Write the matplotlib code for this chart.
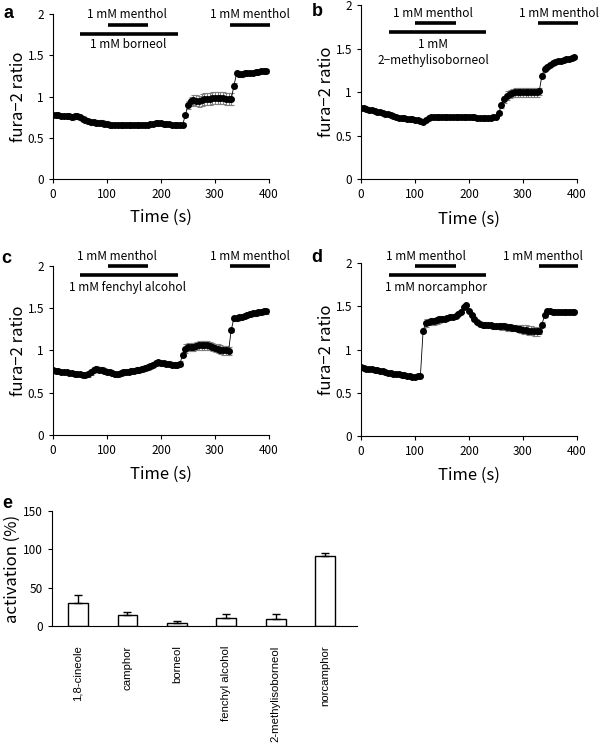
import numpy as np
import matplotlib.pyplot as plt

plt.rcParams['font.family'] = ['Noto Sans CJK JP', 'DejaVu Sans']

# sampling every 5 s
time_s = np.arange(0, 400, 5)

# a: borneol
ratio_a = [0.77, 0.77, 0.77, 0.76, 0.76, 0.76, 0.76, 0.75, 0.76, 0.76,
           0.75, 0.73, 0.71, 0.70, 0.69, 0.69, 0.68, 0.68, 0.68, 0.67,
           0.67, 0.66, 0.66, 0.66, 0.65, 0.65, 0.65, 0.65, 0.66, 0.66,
           0.66, 0.66, 0.66, 0.66, 0.66, 0.66, 0.67, 0.67, 0.68, 0.68,
           0.68, 0.67, 0.67, 0.67, 0.66, 0.66, 0.66, 0.65, 0.66, 0.77,
           0.90, 0.94, 0.96, 0.95, 0.94, 0.96, 0.97, 0.97, 0.97, 0.98,
           0.98, 0.98, 0.98, 0.98, 0.97, 0.97, 0.97, 1.13, 1.28, 1.27,
           1.27, 1.28, 1.28, 1.29, 1.29, 1.30, 1.30, 1.31, 1.31, 1.31]
err_a = [0.01, 0.02, 0.02, 0.02, 0.02, 0.02, 0.02, 0.03, 0.03, 0.03,
         0.03, 0.03, 0.03, 0.03, 0.03, 0.03, 0.03, 0.03, 0.03, 0.03,
         0.03, 0.02, 0.02, 0.02, 0.02, 0.02, 0.02, 0.02, 0.02, 0.02,
         0.02, 0.02, 0.02, 0.02, 0.02, 0.02, 0.02, 0.02, 0.02, 0.02,
         0.02, 0.02, 0.02, 0.02, 0.02, 0.02, 0.02, 0.02, 0.02, 0.02,
         0.05, 0.06, 0.06, 0.07, 0.07, 0.07, 0.07, 0.07, 0.07, 0.07,
         0.07, 0.07, 0.07, 0.07, 0.07, 0.07, 0.07, 0.03, 0.03, 0.03,
         0.03, 0.02, 0.02, 0.02, 0.02, 0.02, 0.02, 0.02, 0.02, 0.02]

# b: 2-methylisoborneol
ratio_b = [0.82, 0.82, 0.81, 0.80, 0.79, 0.78, 0.77, 0.77, 0.76, 0.75,
           0.75, 0.74, 0.73, 0.71, 0.70, 0.70, 0.70, 0.69, 0.69, 0.69,
           0.68, 0.68, 0.67, 0.66, 0.68, 0.70, 0.72, 0.72, 0.71, 0.71,
           0.71, 0.71, 0.71, 0.71, 0.71, 0.71, 0.71, 0.71, 0.72, 0.72,
           0.72, 0.71, 0.71, 0.70, 0.70, 0.70, 0.70, 0.70, 0.70, 0.71,
           0.72, 0.76, 0.85, 0.92, 0.96, 0.98, 0.99, 1.00, 1.00, 1.00,
           1.00, 1.00, 1.00, 1.00, 1.00, 1.00, 1.01, 1.19, 1.27, 1.29,
           1.31, 1.33, 1.35, 1.36, 1.36, 1.37, 1.38, 1.38, 1.39, 1.40]
err_b = [0.01] * 51 + [0.02, 0.03, 0.04, 0.05, 0.05, 0.05, 0.05, 0.05, 0.05,
                       0.05, 0.05, 0.05, 0.05, 0.05, 0.05, 0.04, 0.03, 0.03,
                       0.02, 0.02, 0.02, 0.02, 0.02, 0.02, 0.02, 0.02, 0.02,
                       0.02, 0.02]

# c: fenchyl alcohol
ratio_c = [0.77, 0.76, 0.76, 0.75, 0.74, 0.74, 0.73, 0.73, 0.72, 0.72,
           0.72, 0.71, 0.71, 0.72, 0.74, 0.77, 0.78, 0.77, 0.77, 0.76,
           0.75, 0.74, 0.73, 0.72, 0.72, 0.73, 0.74, 0.75, 0.75, 0.76,
           0.76, 0.77, 0.77, 0.78, 0.79, 0.80, 0.81, 0.83, 0.85, 0.86,
           0.85, 0.85, 0.84, 0.84, 0.83, 0.83, 0.83, 0.84, 0.95, 1.02,
           1.04, 1.04, 1.04, 1.05, 1.06, 1.06, 1.06, 1.06, 1.05, 1.04,
           1.03, 1.02, 1.01, 1.00, 1.00, 0.99, 1.24, 1.38, 1.38, 1.39,
           1.40, 1.41, 1.42, 1.43, 1.44, 1.44, 1.45, 1.45, 1.46, 1.46]
err_c = [0.01] * 13 + [0.03] * 35 + [0.02] + [0.05] * 17 + [0.02] + [0.03] * 13

# d: norcamphor
ratio_d = [0.80, 0.79, 0.78, 0.78, 0.77, 0.76, 0.76, 0.75, 0.75, 0.74,
           0.73, 0.73, 0.72, 0.72, 0.72, 0.71, 0.71, 0.70, 0.69, 0.68,
           0.68, 0.69, 0.70, 1.22, 1.31, 1.32, 1.33, 1.33, 1.34, 1.35,
           1.36, 1.36, 1.37, 1.38, 1.38, 1.39, 1.41, 1.43, 1.49, 1.52,
           1.45, 1.40, 1.35, 1.32, 1.30, 1.29, 1.29, 1.28, 1.28, 1.27,
           1.27, 1.27, 1.27, 1.27, 1.26, 1.26, 1.25, 1.25, 1.24, 1.24,
           1.23, 1.23, 1.22, 1.22, 1.21, 1.21, 1.21, 1.29, 1.40, 1.45,
           1.45, 1.44, 1.44, 1.44, 1.43, 1.43, 1.43, 1.44, 1.43, 1.44]
err_d = ([0.01] * 23 + [0.03, 0.05, 0.04, 0.04, 0.04, 0.04, 0.04, 0.03, 0.03,
                        0.03, 0.03, 0.02, 0.02, 0.01, 0.01, 0.01, 0.01, 0.01,
                        0.01, 0.02, 0.02, 0.02, 0.03, 0.03, 0.03, 0.03, 0.03,
                        0.03, 0.03, 0.04, 0.04, 0.04, 0.04, 0.04, 0.04, 0.04,
                        0.05, 0.05, 0.05, 0.05, 0.05, 0.05, 0.05, 0.03, 0.03,
                        0.02, 0.02, 0.02, 0.02, 0.02, 0.02, 0.02, 0.02, 0.02,
                        0.02, 0.02, 0.02])

# e: activation
compounds = ['1,8-cineole', 'camphor', 'borneol', 'fenchyl alcohol',
             '2-methylisoborneol', 'norcamphor']
activation = [30, 15, 4, 11, 9, 91]
activation_err = [10, 3, 3, 5, 7, 4]

fig = plt.figure(figsize=(5.99, 7.49), dpi=100)


def trace_panel(rect, y, err):
    ax = fig.add_axes(rect)
    ax.errorbar(time_s, y, yerr=err, fmt='o-', color='black', ms=4.0,
                lw=0.6, ecolor='#808080', elinewidth=0.8, capsize=1.8,
                capthick=0.8)
    ax.set_xlim(0, 400)
    ax.set_ylim(0, 2)
    ax.set_xticks([0, 100, 200, 300, 400])
    ax.set_yticks([0, 0.5, 1, 1.5, 2])
    ax.set_yticklabels(['0', '0.5', '1', '1.5', '2'])
    ax.tick_params(labelsize=8.5, length=3, width=0.8)
    for s in ['top', 'right']:
        ax.spines[s].set_visible(False)
    ax.text(-0.162, 0.5, 'fura−2 ratio', transform=ax.transAxes,
            fontsize=12, rotation=90, ha='center', va='center')
    ax.text(0.5, -0.23, 'Time (s)', transform=ax.transAxes,
            fontsize=12, ha='center', va='center')
    return ax


def drug_bar(ax, x0, x1, y):
    ax.plot([x0, x1], [y, y], color='black', lw=2.6, clip_on=False,
            solid_capstyle='butt')


def label(ax, x, y, s):
    ax.text(x, y, s, fontsize=8.5, ha='center', va='center', clip_on=False)


def letter(x, y, s):
    fig.text(x / 599, 1 - y / 749, s, fontsize=13, fontweight='bold',
             family='Liberation Sans', ha='center', va='center')


ax_a = trace_panel([0.0885, 0.761, 0.3606, 0.2203], ratio_a, err_a)
drug_bar(ax_a, 101, 175, 1.87)
drug_bar(ax_a, 50, 232, 1.76)
drug_bar(ax_a, 328, 402, 1.87)
label(ax_a, 137, 2.0, '1 mM menthol')
label(ax_a, 139, 1.63, '1 mM borneol')
label(ax_a, 364, 2.0, '1 mM menthol')

ax_b = trace_panel([0.6027, 0.7606, 0.3606, 0.2327], ratio_b, err_b)
drug_bar(ax_b, 100, 175, 1.79)
drug_bar(ax_b, 51, 231, 1.69)
drug_bar(ax_b, 328, 401, 1.79)
label(ax_b, 134, 1.90, '1 mM menthol')
label(ax_b, 134, 1.55, '1 mM')
label(ax_b, 134, 1.36, '2−methylisoborneol')
label(ax_b, 366, 1.90, '1 mM menthol')

ax_c = trace_panel([0.0885, 0.4192, 0.3606, 0.2260], ratio_c, err_c)
drug_bar(ax_c, 101, 175, 2.0)
drug_bar(ax_c, 50, 232, 1.89)
drug_bar(ax_c, 327, 401, 2.0)
label(ax_c, 119, 2.11, '1 mM menthol')
label(ax_c, 138, 1.74, '1 mM fenchyl alcohol')
label(ax_c, 364, 2.11, '1 mM menthol')

ax_d = trace_panel([0.6027, 0.4179, 0.3606, 0.2306], ratio_d, err_d)
drug_bar(ax_d, 100, 176, 1.97)
drug_bar(ax_d, 51, 232, 1.87)
drug_bar(ax_d, 329, 402, 1.97)
label(ax_d, 120, 2.08, '1 mM menthol')
label(ax_d, 138, 1.72, '1 mM norcamphor')
label(ax_d, 337, 2.08, '1 mM menthol')

ax_e = fig.add_axes([0.0868, 0.1642, 0.509, 0.1535])
pos = np.arange(len(compounds))
ax_e.bar(pos, activation, width=0.4, color='white', edgecolor='black',
         lw=1.0)
ax_e.errorbar(pos, activation, yerr=[np.zeros(len(pos)), activation_err],
              fmt='none', ecolor='black', elinewidth=1.0, capsize=3,
              capthick=1.0)
ax_e.set_xlim(-0.525, 5.64)
ax_e.set_ylim(0, 150)
ax_e.set_yticks([0, 50, 100, 150])
ax_e.set_xticks(pos)
ax_e.set_xticklabels(compounds, rotation=90, fontsize=8.2,
                     family='Liberation Sans', va='top')
ax_e.tick_params(axis='x', length=0, pad=14)
ax_e.tick_params(axis='y', labelsize=8.5, length=3, width=0.8)
for s in ['top', 'right']:
    ax_e.spines[s].set_visible(False)
ax_e.text(-0.131, 0.5, 'activation (%)', transform=ax_e.transAxes,
          fontsize=12, rotation=90, ha='center', va='center')

letter(8, 13, 'a')
letter(317, 12, 'b')
letter(6, 259, 'c')
letter(317, 258, 'd')
letter(7, 503, 'e')

fig.savefig('out.png', dpi=100)
